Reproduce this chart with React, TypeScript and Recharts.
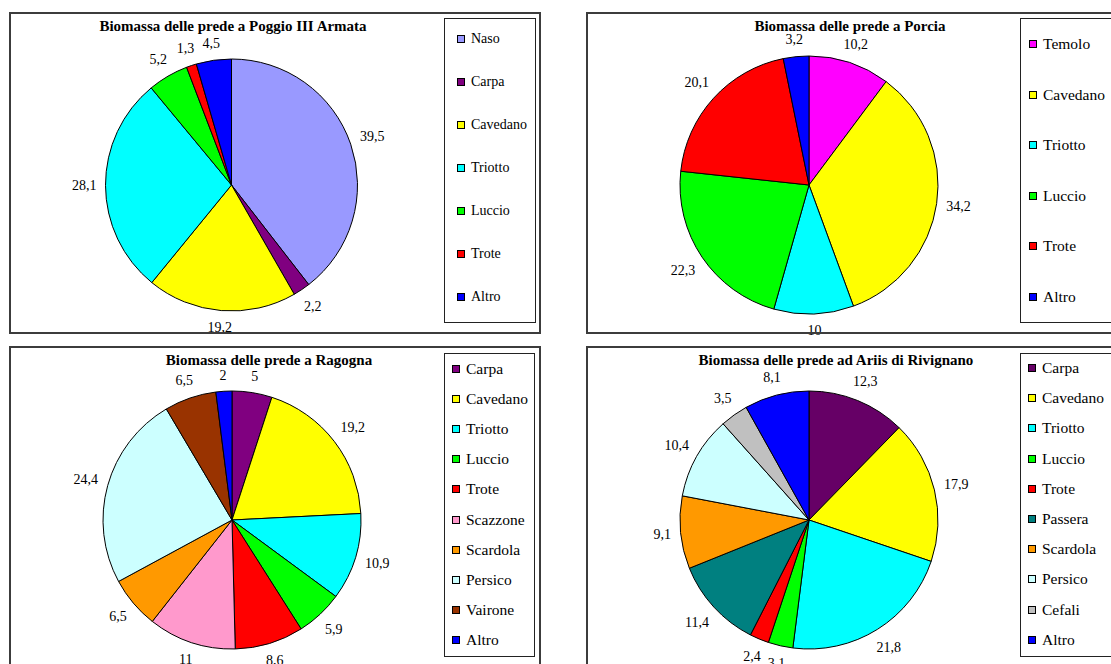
import React from "react";
import { PieChart, Pie, Cell } from "recharts";

// ---------- DATA ----------
const poggioNames = ["Naso", "Carpa", "Cavedano", "Triotto", "Luccio", "Trote", "Altro"];
const poggioValues = [39.5, 2.2, 19.2, 28.1, 5.2, 1.3, 4.5];

const porciaNames = ["Temolo", "Cavedano", "Triotto", "Luccio", "Trote", "Altro"];
const porciaValues = [10.2, 34.2, 10, 22.3, 20.1, 3.2];

const ragognaNames = ["Carpa", "Cavedano", "Triotto", "Luccio", "Trote", "Scazzone", "Scardola", "Persico", "Vairone", "Altro"];
const ragognaValues = [5, 19.2, 10.9, 5.9, 8.6, 11, 6.5, 24.4, 6.5, 2];

const ariisNames = ["Carpa", "Cavedano", "Triotto", "Luccio", "Trote", "Passera", "Scardola", "Persico", "Cefali", "Altro"];
const ariisValues = [12.3, 17.9, 21.8, 3.1, 2.4, 11.4, 9.1, 10.4, 3.5, 8.1];

const titles = [
  "Biomassa delle prede a Poggio III Armata",
  "Biomassa delle prede a Porcia",
  "Biomassa delle prede a Ragogna",
  "Biomassa delle prede ad Ariis di Rivignano",
];

// ---------- COLOURS ----------
const speciesColor: Record<string, string> = {
  Naso: "#9999FF",
  Carpa: "#800080",
  Cavedano: "#FFFF00",
  Triotto: "#00FFFF",
  Luccio: "#00FF00",
  Trote: "#FF0000",
  Altro: "#0000FF",
  Temolo: "#FF00FF",
  Scazzone: "#FF99CC",
  Scardola: "#FF9900",
  Persico: "#CCFFFF",
  Vairone: "#993300",
  Passera: "#008080",
  Cefali: "#C0C0C0",
};
const ariisCarpaColor = "#660066";

const FONT = '"Liberation Serif", "Times New Roman", serif';
const LABEL_SIZE = 14;
const GAP = 9;

const fmt = (v: number) => String(v).replace(".", ",");
const textWidth = (s: string) => {
  let w = 0;
  for (const ch of s) w += ch === "," ? 0.25 : 0.5;
  return w * LABEL_SIZE;
};

const renderLabel = (props: any) => {
  const { cx, cy, midAngle, outerRadius, value } = props;
  const text = fmt(value);
  const w = textWidth(text);
  const h = 14;
  const rad = Math.PI / 180;
  const c = Math.cos(-midAngle * rad);
  const s = Math.sin(-midAngle * rad);
  const d = outerRadius + GAP + (w / 2) * Math.abs(c) + (h / 2) * Math.abs(s);
  const x = cx + d * c;
  const y = cy + d * s;
  return (
    <text
      x={x}
      y={y}
      textAnchor="middle"
      dominantBaseline="central"
      fontSize={LABEL_SIZE}
      fontFamily={FONT}
      fill="#000"
    >
      {text}
    </text>
  );
};

type PanelCfg = {
  names: string[];
  values: number[];
  colors: string[];
  title: string;
  chart: { left: number; top: number; width: number; height: number };
  center: { x: number; y: number; r: number };
  box: { left: number; top: number; width: number; height: number };
  titleX: number;
  legend: {
    left: number; top: number; width: number; height: number;
    firstY: number; step: number; sqX: number; txtX: number; fontSize: number;
  };
};

const colorsFor = (names: string[], override?: Record<string, string>) =>
  names.map((n) => (override && override[n]) || speciesColor[n]);

const panels: PanelCfg[] = [
  {
    names: poggioNames,
    values: poggioValues,
    colors: colorsFor(poggioNames),
    title: titles[0],
    chart: { left: 0, top: 0, width: 560, height: 340 },
    center: { x: 231.5, y: 185, r: 126 },
    box: { left: 9, top: 12, width: 532, height: 322 },
    titleX: 233,
    legend: { left: 444, top: 18, width: 92, height: 305, firstY: 38.5, step: 43, sqX: 457, txtX: 471, fontSize: 14 },
  },
  {
    names: porciaNames,
    values: porciaValues,
    colors: colorsFor(porciaNames),
    title: titles[1],
    chart: { left: 560, top: 0, width: 551, height: 340 },
    center: { x: 809, y: 185, r: 129 },
    box: { left: 586, top: 12, width: 540, height: 322 },
    titleX: 850,
    legend: { left: 1020, top: 18, width: 120, height: 305, firstY: 44, step: 50.6, sqX: 1029, txtX: 1043, fontSize: 15.5 },
  },
  {
    names: ragognaNames,
    values: ragognaValues,
    colors: colorsFor(ragognaNames),
    title: titles[2],
    chart: { left: 0, top: 340, width: 560, height: 324 },
    center: { x: 232, y: 520, r: 129 },
    box: { left: 9, top: 346, width: 532, height: 330 },
    titleX: 269,
    legend: { left: 444, top: 353, width: 91, height: 304, firstY: 369, step: 30.1, sqX: 452, txtX: 466, fontSize: 15.5 },
  },
  {
    names: ariisNames,
    values: ariisValues,
    colors: colorsFor(ariisNames, { Carpa: ariisCarpaColor }),
    title: titles[3],
    chart: { left: 560, top: 340, width: 551, height: 324 },
    center: { x: 809, y: 520, r: 129 },
    box: { left: 586, top: 346, width: 540, height: 330 },
    titleX: 836,
    legend: { left: 1020, top: 353, width: 120, height: 304, firstY: 368, step: 30.2, sqX: 1028, txtX: 1042, fontSize: 15.5 },
  },
];

const Panel = ({ p }: { p: PanelCfg }) => {
  const data = p.names.map((n, i) => ({ name: n, value: p.values[i] }));
  return (
    <>
      <div style={{ position: "absolute", left: p.chart.left, top: p.chart.top, width: p.chart.width, height: p.chart.height }}>
        <PieChart
          width={p.chart.width}
          height={p.chart.height}
          margin={{ top: 0, right: 0, bottom: 0, left: 0 }}
          style={{ overflow: "visible" }}
        >
          <Pie
            data={data}
            dataKey="value"
            nameKey="name"
            cx={p.center.x - p.chart.left}
            cy={p.center.y - p.chart.top}
            outerRadius={p.center.r}
            innerRadius={0}
            startAngle={90}
            endAngle={-270}
            stroke="#000"
            strokeWidth={1}
            label={renderLabel}
            labelLine={false}
            isAnimationActive={false}
          >
            {data.map((d, i) => (
              <Cell key={d.name} fill={p.colors[i]} />
            ))}
          </Pie>
        </PieChart>
      </div>
      {/* outer frame */}
      <div
        style={{
          position: "absolute",
          left: p.box.left,
          top: p.box.top,
          width: p.box.width,
          height: p.box.height,
          border: "2px solid #3c3c3c",
          boxSizing: "border-box",
          pointerEvents: "none",
        }}
      />
      {/* title */}
      <div
        style={{
          position: "absolute",
          left: p.titleX - 250,
          width: 500,
          top: p.box.top + 6,
          textAlign: "center",
          fontFamily: FONT,
          fontWeight: "bold",
          fontSize: 15,
          lineHeight: "16px",
          color: "#000",
          whiteSpace: "nowrap",
        }}
      >
        {p.title}
      </div>
      {/* legend */}
      <div
        style={{
          position: "absolute",
          left: p.legend.left,
          top: p.legend.top,
          width: p.legend.width,
          height: p.legend.height,
          border: "1px solid #222",
          boxSizing: "border-box",
          background: "#fff",
        }}
      />
      {p.names.map((n, i) => {
        const y = p.legend.firstY + i * p.legend.step;
        return (
          <React.Fragment key={n}>
            <div
              style={{
                position: "absolute",
                left: p.legend.sqX,
                top: y - 4,
                width: 8,
                height: 8,
                background: p.colors[i],
                border: "1px solid #000",
                boxSizing: "border-box",
              }}
            />
            <div
              style={{
                position: "absolute",
                left: p.legend.txtX,
                top: y - 9,
                height: 18,
                lineHeight: "18px",
                fontFamily: FONT,
                fontSize: p.legend.fontSize,
                color: "#000",
                whiteSpace: "nowrap",
              }}
            >
              {n}
            </div>
          </React.Fragment>
        );
      })}
    </>
  );
};

export default function App() {
  return (
    <div
      style={{
        position: "absolute",
        left: 0,
        top: 0,
        width: 1111,
        height: 664,
        overflow: "hidden",
        background: "#fff",
        fontFamily: FONT,
      }}
    >
      {panels.map((p, i) => (
        <Panel key={i} p={p} />
      ))}
    </div>
  );
}
